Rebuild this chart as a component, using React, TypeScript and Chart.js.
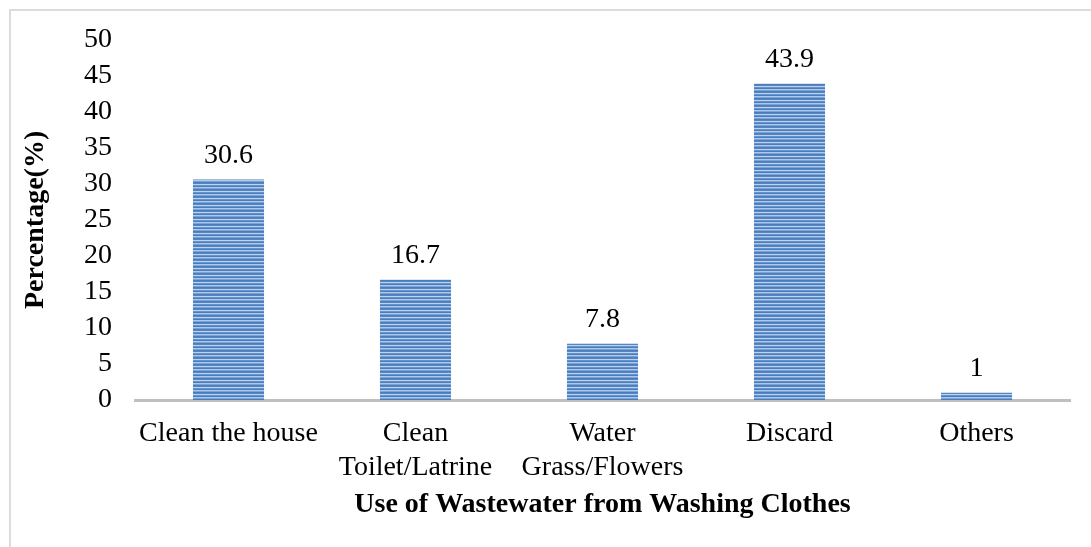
import React, { useEffect, useRef } from "react";
import { Chart, registerables } from "chart.js";

Chart.register(...registerables);

const categories: (string | string[])[] = [
  "Clean the house",
  ["Clean", "Toilet/Latrine"],
  ["Water", "Grass/Flowers"],
  "Discard",
  "Others",
];
const values: number[] = [30.6, 16.7, 7.8, 43.9, 1];
const valueLabels: string[] = ["30.6", "16.7", "7.8", "43.9", "1"];
const yTicks: number[] = [0, 5, 10, 15, 20, 25, 30, 35, 40, 45, 50];

const FONT = "'Liberation Serif', 'Times New Roman', serif";

function makePattern(): CanvasPattern | string {
  const c = document.createElement("canvas");
  c.width = 4;
  c.height = 7;
  const g = c.getContext("2d");
  if (!g) return "#5b8bc9";
  const rows = ["#4a7dbc", "#5586c3", "#bcd2ee", "#6593cc", "#4a7dbc", "#b0c9ea", "#7aa3d6"];
  rows.forEach((col, i) => {
    g.fillStyle = col;
    g.fillRect(0, i, 4, 1);
  });
  const p = g.createPattern(c, "repeat");
  return p || "#5b8bc9";
}

const valueLabelPlugin = {
  id: "valueLabels",
  afterDatasetsDraw(chart: any) {
    const ctx = chart.ctx;
    const meta = chart.getDatasetMeta(0);
    ctx.save();
    ctx.font = `28px ${FONT}`;
    ctx.fillStyle = "#000";
    ctx.textAlign = "center";
    ctx.textBaseline = "alphabetic";
    meta.data.forEach((bar: any, i: number) => {
      ctx.fillText(valueLabels[i], bar.x, bar.y - 17);
    });
    ctx.restore();
  },
};

export default function App() {
  const ref = useRef<HTMLCanvasElement>(null);
  useEffect(() => {
    if (!ref.current) return;
    const chart = new Chart(ref.current, {
      type: "bar",
      data: {
        labels: categories,
        datasets: [
          {
            data: values,
            backgroundColor: makePattern() as any,
            borderWidth: 0,
            barPercentage: 0.38,
            categoryPercentage: 1,
          },
        ],
      },
      options: {
        responsive: false,
        animation: false,
        devicePixelRatio: 1,
        layout: { padding: { top: 39, right: 21, bottom: 0, left: 0 } },
        plugins: {
          legend: { display: false },
          tooltip: { enabled: false },
        },
        scales: {
          x: {
            grid: { display: false, drawTicks: false },
            border: { display: true, color: "#bfbfbf", width: 3 },
            ticks: {
              color: "#000",
              font: { family: FONT, size: 28, lineHeight: 1.2 },
              padding: 17,
              maxRotation: 0,
              autoSkip: false,
            },
            title: {
              display: true,
              text: "Use of Wastewater from Washing Clothes",
              color: "#000",
              font: { family: FONT, size: 28, weight: "bold", lineHeight: 1.2 },
              padding: { top: 0, bottom: 25 },
            },
            afterFit: (scale: any) => {
              scale.height = 147;
            },
          },
          y: {
            min: 0,
            max: 50,
            grid: { display: false, drawTicks: false },
            border: { display: false },
            afterBuildTicks: (scale: any) => {
              scale.ticks = yTicks.map((v) => ({ value: v }));
            },
            ticks: {
              color: "#000",
              font: { family: FONT, size: 28 },
              padding: 23,
              autoSkip: false,
            },
            title: {
              display: true,
              text: "Percentage(%)",
              color: "#000",
              font: { family: FONT, size: 28, weight: "bold", lineHeight: 1.2 },
              padding: { top: 19, bottom: 0 },
            },
            afterFit: (scale: any) => {
              scale.width = 135;
            },
          },
        },
      },
      plugins: [valueLabelPlugin],
    });
    return () => chart.destroy();
  }, []);

  return (
    <div style={{ position: "absolute", left: 0, top: 0, width: 1091, height: 547, background: "#fff", overflow: "hidden" }}>
      <div
        style={{
          position: "absolute",
          left: 9,
          top: 9,
          width: 1100,
          height: 560,
          borderLeft: "2px solid #dcdcdc",
          borderTop: "2px solid #dcdcdc",
        }}
      />
      <canvas ref={ref} width={1091} height={547} style={{ position: "absolute", left: 0, top: 0 }} />
    </div>
  );
}
